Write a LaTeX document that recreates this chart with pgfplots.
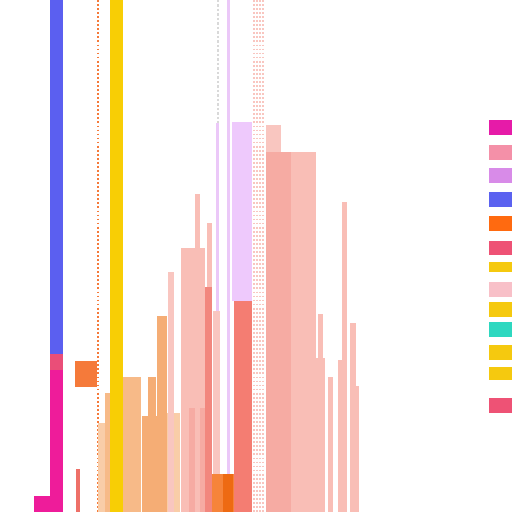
\documentclass[border=0pt]{standalone}
\usepackage{pgfplots}
\pgfplotsset{compat=1.18}
\definecolor{cblue}{HTML}{5B5FF0}
\definecolor{cmag}{HTML}{EE1C9A}
\definecolor{crose}{HTML}{EA4E78}
\definecolor{cyel}{HTML}{F8CE05}
\definecolor{cgold}{HTML}{F5C90F}
\definecolor{corsq}{HTML}{F57A3A}
\definecolor{cred}{HTML}{EE7068}
\definecolor{cpeachL}{HTML}{F9CDA8}
\definecolor{cpeach}{HTML}{F7BA88}
\definecolor{cpeachD}{HTML}{F5AD75}
\definecolor{cpinkL}{HTML}{F9C6C0}
\definecolor{cpink}{HTML}{F9BEB6}
\definecolor{cpinkD}{HTML}{F6ABA3}
\definecolor{csalm}{HTML}{F2877E}
\definecolor{csalmD}{HTML}{F47D72}
\definecolor{clav}{HTML}{EEC9FC}
\definecolor{clavD}{HTML}{EBC8F8}
\definecolor{cora}{HTML}{F6843A}
\definecolor{coraD}{HTML}{EE6A12}
\definecolor{lg1}{HTML}{E61BA8}
\definecolor{lg2}{HTML}{F490A8}
\definecolor{lg3}{HTML}{D88BE8}
\definecolor{lg4}{HTML}{5B62F0}
\definecolor{lg5}{HTML}{FF6A10}
\definecolor{lg6}{HTML}{EE5275}
\definecolor{lg8}{HTML}{F8C0C8}
\definecolor{lg10}{HTML}{2ED8C0}
% rect: x1, x2, top, bottom, colour (pixel coordinates, y downwards)
\newcommand{\rect}[5]{\addplot[fill=#5,draw=none] coordinates {(#1,#4) (#1,#3) (#2,#3) (#2,#4)};}
\newcommand{\dline}[2]{\addplot[#2,densely dotted,line width=0.8pt] coordinates {(#1,0) (#1,512)};}
\begin{document}
\begin{tikzpicture}
\begin{axis}[
    scale only axis,
    width=8cm, height=8cm,
    xmin=0, xmax=512, ymin=0, ymax=512,
    y dir=reverse,
    axis line style={draw=none},
    ticks=none,
    axis background/.style={fill=white},
    clip=true,
]
% dotted background lines
\dline{98}{corsq}
\addplot[gray!30,densely dotted,line width=1pt] coordinates {(218,0) (218,123)};
\dline{254}{cpinkL}
\dline{257}{cpinkL}
\dline{260}{cpinkL}
\dline{263}{cpinkL}
\rect{227}{230}{0}{512}{clavD}
% left group
\rect{34}{50}{496}{512}{cmag}
\rect{50}{63}{0}{512}{cblue}
\rect{50}{63}{354}{370}{crose}
\rect{50}{63}{370}{512}{cmag}
\rect{75}{97}{361}{387}{corsq}
\rect{76}{80}{469}{512}{cred}
% peach bars
\rect{98}{106}{423}{512}{cpeachL}
\rect{105}{111}{393}{512}{cpeach}
\rect{123}{141}{377}{512}{cpeach}
\rect{142}{157}{416}{512}{cpeachD}
\rect{148}{156}{377}{512}{cpeachD}
\rect{157}{167}{316}{512}{cpeachD}
\rect{167}{180}{413}{512}{cpeachL}
\rect{110}{123}{0}{512}{cyel}
% pink bars
\rect{168}{174}{272}{512}{cpinkL}
\rect{181}{205}{248}{512}{cpink}
\rect{189}{205}{408}{512}{cpinkD}
\rect{195}{200}{194}{512}{cpink}
\rect{207}{212}{223}{512}{cpink}
\rect{205}{212}{287}{512}{csalm}
\rect{213}{220}{311}{512}{cpinkL}
\rect{216}{219}{123}{311}{clavD}
\rect{232}{252}{122}{301}{clav}
\rect{234}{252}{301}{512}{csalmD}
\rect{212}{234}{474}{512}{cora}
\rect{223}{233}{474}{512}{coraD}
\rect{266}{281}{125}{512}{cpinkL}
\rect{291}{316}{152}{512}{cpink}
\rect{266}{291}{152}{512}{cpinkD}
\rect{266}{276}{311}{512}{cpinkD}
\rect{318}{323}{314}{512}{cpink}
\rect{316}{325}{358}{512}{cpink}
\rect{328}{333}{377}{512}{cpink}
\rect{342}{347}{202}{512}{cpink}
\rect{338}{347}{360}{512}{cpink}
\rect{350}{356}{323}{512}{cpink}
\rect{350}{359}{386}{512}{cpink}
% legend swatches
\rect{489}{512}{120}{135}{lg1}
\rect{489}{512}{145}{160}{lg2}
\rect{489}{512}{168}{183}{lg3}
\rect{489}{512}{192}{207}{lg4}
\rect{489}{512}{216}{231}{lg5}
\rect{489}{512}{241}{255}{lg6}
\rect{489}{512}{262}{272}{cgold}
\rect{489}{512}{282}{297}{lg8}
\rect{489}{512}{302}{317}{cgold}
\rect{489}{512}{322}{337}{lg10}
\rect{489}{512}{345}{360}{cgold}
\rect{489}{512}{367}{380}{cgold}
\rect{489}{512}{398}{413}{lg6}
\end{axis}
\end{tikzpicture}
\end{document}
